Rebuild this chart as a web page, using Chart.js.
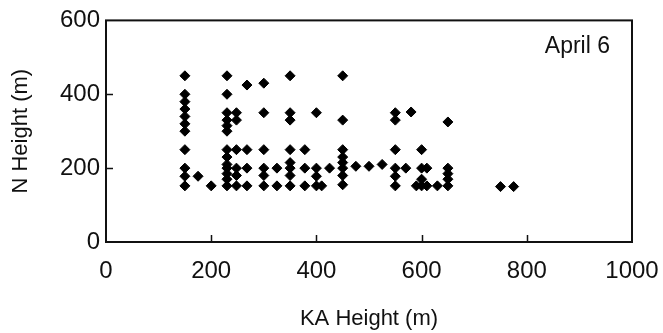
<!DOCTYPE html>
<html>
<head>
<meta charset="utf-8">
<script src="https://cdn.jsdelivr.net/npm/chart.js@4/dist/chart.umd.min.js"></script>
<style>
  html, body { margin: 0; padding: 0; background: #fff; }
  #wrap { width: 663px; height: 333px; }
</style>
</head>
<body>
<div id="wrap"><canvas id="grafico"></canvas></div>
<script>
const kaHeight = [
  150, 150, 150, 150, 150, 150, 150, 150, 150, 150, 150,
  175, 200,
  230, 230, 230, 230, 230, 230, 230, 230, 230, 230, 230, 230, 230,
  248, 248, 248, 248, 248, 248,
  268, 268, 268, 268,
  300, 300, 300, 300, 300, 300,
  325, 325,
  350, 350, 350, 350, 350, 350, 350, 350,
  378, 378, 378,
  400, 400, 400, 400, 410,
  425,
  450, 450, 450, 450, 450, 450, 450, 450,
  475, 500, 525,
  550, 550, 550, 550, 550, 550,
  570, 580, 590,
  600, 600, 600, 600, 610, 610, 630,
  650, 650, 650, 650, 650,
  750, 775
];
const nHeight = [
  450, 400, 380, 360, 340, 320, 300, 250, 200, 178, 152,
  178, 152,
  450, 400, 350, 330, 315, 300, 250, 230, 210, 200, 185, 170, 152,
  350, 330, 250, 200, 180, 152,
  425, 250, 200, 152,
  430, 350, 250, 200, 180, 152,
  200, 152,
  450, 350, 330, 250, 215, 200, 180, 152,
  250, 200, 152,
  350, 200, 178, 152, 152,
  200,
  450, 330, 250, 230, 215, 200, 180, 155,
  205, 205, 210,
  350, 330, 250, 200, 178, 152,
  200, 352, 152,
  250, 200, 170, 152, 200, 152, 152,
  325, 200, 185, 170, 152,
  150, 150
];

const xTicks = [0, 200, 400, 600, 800, 1000];
const yTicks = [0, 200, 400, 600];
const rotulo = 'April 6';

const pontos = kaHeight.map((x, i) => ({ x: x, y: nHeight[i] }));

const familia = '"Liberation Sans", Arial, sans-serif';
const fonteTicks = { family: familia, size: 24 };
const fonteTitulo = { family: familia, size: 22 };

// Frame, inward tick marks and the date label
const moldura = {
  id: 'moldura',
  afterDraw(chart) {
    const ctx = chart.ctx;
    const area = chart.chartArea;
    const xs = chart.scales.x;
    const ys = chart.scales.y;
    ctx.save();
    ctx.strokeStyle = '#111';
    ctx.lineWidth = 2;
    ctx.strokeRect(area.left, area.top, area.right - area.left, area.bottom - area.top);
    ctx.lineWidth = 1.5;
    ctx.beginPath();
    xTicks.slice(1, -1).forEach(v => {
      const px = Math.round(xs.getPixelForValue(v)) + 0.5;
      ctx.moveTo(px, area.bottom);
      ctx.lineTo(px, area.bottom - 7);
    });
    yTicks.slice(1, -1).forEach(v => {
      const py = Math.round(ys.getPixelForValue(v)) + 0.5;
      ctx.moveTo(area.left, py);
      ctx.lineTo(area.left + 7, py);
    });
    ctx.stroke();
    ctx.fillStyle = '#111';
    ctx.font = '23px ' + familia;
    ctx.textAlign = 'right';
    ctx.textBaseline = 'alphabetic';
    ctx.fillText(rotulo, area.right - 22, area.top + 33);
    ctx.restore();
  }
};

new Chart(document.getElementById('grafico'), {
  type: 'scatter',
  data: {
    datasets: [{
      data: pontos,
      pointStyle: 'rectRot',
      pointRadius: 5,
      borderWidth: 1,
      backgroundColor: '#000',
      borderColor: '#000'
    }]
  },
  options: {
    responsive: true,
    maintainAspectRatio: false,
    animation: false,
    layout: { padding: { top: 19, right: 31, bottom: 0, left: 0 } },
    plugins: { legend: { display: false }, tooltip: { enabled: false } },
    scales: {
      x: {
        type: 'linear',
        min: 0,
        max: 1000,
        afterBuildTicks: s => { s.ticks = xTicks.map(v => ({ value: v })); },
        afterFit: s => { s.height = 91; },
        grid: { display: false, drawTicks: true, tickLength: 12 },
        border: { display: false },
        ticks: { color: '#111', font: fonteTicks, padding: 3, maxRotation: 0, callback: v => String(v) },
        title: { display: true, text: 'KA Height (m)', color: '#111', font: fonteTitulo, padding: { top: 0, bottom: 1 } }
      },
      y: {
        type: 'linear',
        min: 0,
        max: 600,
        afterBuildTicks: s => { s.ticks = yTicks.map(v => ({ value: v })); },
        afterFit: s => { s.width = 106; },
        grid: { display: false, drawTicks: false },
        border: { display: false },
        ticks: { color: '#111', font: fonteTicks, padding: 6, callback: v => String(v) },
        title: { display: true, text: 'N Height (m)', color: '#111', font: fonteTitulo, padding: { top: 8, bottom: 0 } }
      }
    }
  },
  plugins: [moldura]
});
</script>
</body>
</html>
